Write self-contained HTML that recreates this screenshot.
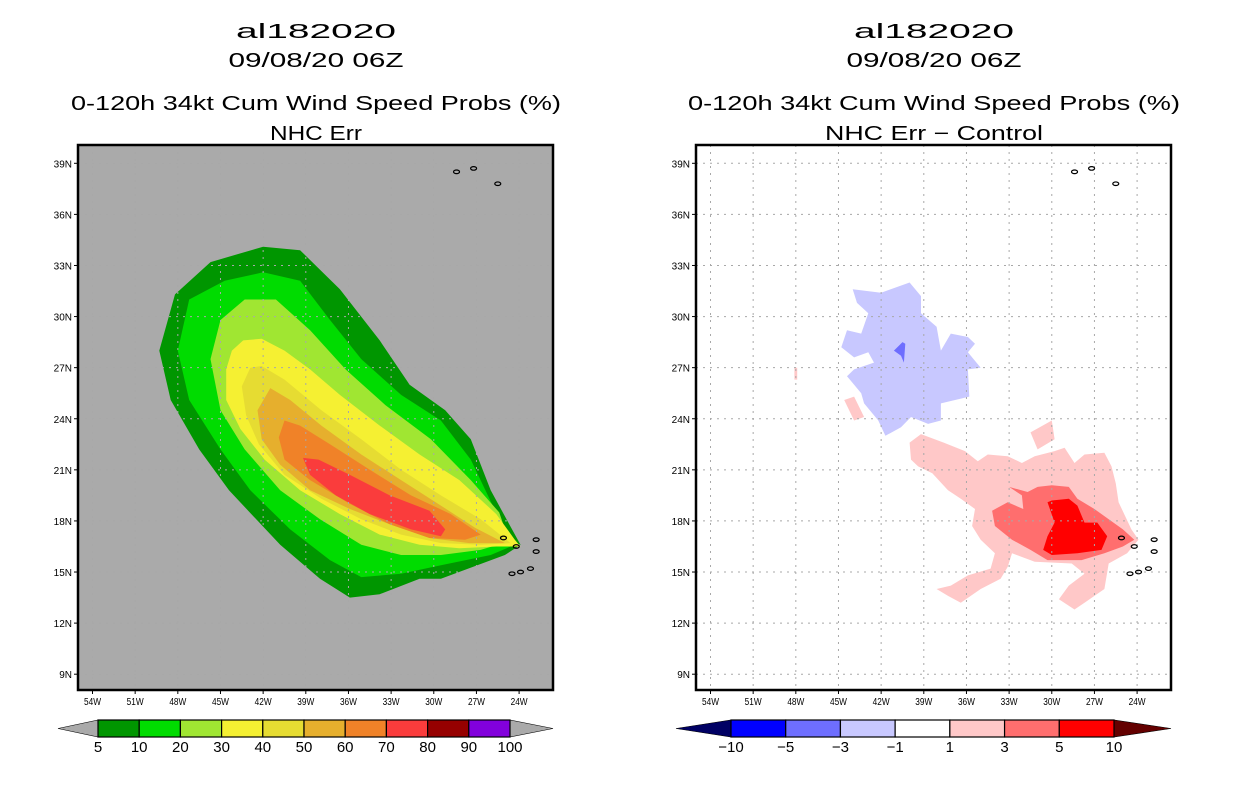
<!DOCTYPE html>
<html><head><meta charset="utf-8"><style>
html,body{margin:0;padding:0;background:#fff;}
svg{display:block;font-family:"Liberation Sans",sans-serif;}
</style></head><body>
<svg id="chart" width="1236" height="800" viewBox="0 0 1236 800" xmlns="http://www.w3.org/2000/svg"></svg>
<script>
// ---------- data ----------
const lonTicks = [-54,-51,-48,-45,-42,-39,-36,-33,-30,-27,-24];
const lonTickLabels = ["54W","51W","48W","45W","42W","39W","36W","33W","30W","27W","24W"];
const latTicks = [39,36,33,30,27,24,21,18,15,12,9];
const latTickLabels = ["39N","36N","33N","30N","27N","24N","21N","18N","15N","12N","9N"];

const probLevels = ["5","10","20","30","40","50","60","70","80","90","100"];
const probColors = ["#009600","#00dc00","#a0e632","#f5f032","#e6dc32","#e6af2d","#f08228","#fa3c3c","#960000","#8200dc"];
const diffLevels = ["-10","-5","-3","-1","1","3","5","10"];
const diffColors = ["#0000ff","#6e6eff","#c8c8ff","#ffffff","#ffc8c8","#ff6e6e","#ff0000"];

const prob5  = [[-49.3,28],[-48.2,31.3],[-45.7,33.2],[-42.0,34.1],[-39.4,33.9],[-36.6,31.6],[-33.8,28.6],[-31.7,26],[-29.2,24.5],[-27.4,22.8],[-26.0,19.8],[-23.9,16.6],[-25.0,16],[-29.5,14.6],[-31.0,14.6],[-33.8,13.7],[-35.9,13.5],[-38.0,14.6],[-40.8,16.6],[-44.4,19.8],[-46.5,22.2],[-48.5,25.1]];
const prob10 = [[-48.0,28],[-47.2,31],[-44.7,32.1],[-42.0,32.6],[-39.4,32.1],[-37.3,29.8],[-35.1,27.5],[-32.3,25.4],[-29.5,23.9],[-27.4,21.6],[-25.4,18.1],[-24.3,16.6],[-26.0,16.0],[-29.5,15.4],[-32.3,14.9],[-35.1,14.7],[-37.3,15.7],[-40.1,17.5],[-42.9,19.8],[-45.0,22.2],[-47.2,25.1]];
const prob20 = [[-45.7,27.5],[-45.0,29.8],[-43.3,31.0],[-41.1,31.0],[-38.7,29.2],[-36.2,26.9],[-33.4,24.8],[-30.2,22.8],[-27.4,20.4],[-25.4,18.5],[-24.7,16.8],[-26.7,16.3],[-29.5,16.0],[-32.3,16.0],[-35.1,16.6],[-38.0,18.1],[-40.8,19.8],[-43.3,22.2],[-45.0,24.5]];
const prob30 = [[-44.6,26.9],[-44.2,28.0],[-43.4,28.6],[-42.1,28.7],[-40.5,28.0],[-38.7,26.9],[-36.6,25.4],[-33.8,23.6],[-31.0,21.9],[-28.2,20.4],[-25.6,18.4],[-24.3,16.9],[-23.9,16.5],[-25.6,16.5],[-28.2,16.4],[-31.0,16.6],[-33.8,17.2],[-36.6,18.4],[-39.4,19.8],[-41.9,21.6],[-43.6,23.4],[-44.6,25.1]];
const prob40 = [[-43.5,25.9],[-42.9,27.0],[-42.1,27.1],[-40.5,26.3],[-37.9,24.5],[-35.1,22.8],[-32.3,21.0],[-29.5,19.5],[-26.7,18.1],[-24.6,16.7],[-26.7,16.6],[-29.5,16.7],[-32.3,17.2],[-35.1,18.1],[-37.9,19.3],[-40.5,20.7],[-42.3,22.5],[-43.2,24.2]];
const prob50 = [[-42.4,24.5],[-41.5,25.8],[-40.1,25.1],[-37.9,23.6],[-35.1,21.9],[-32.3,20.4],[-29.5,18.9],[-27.1,17.6],[-25.0,16.7],[-27.5,16.7],[-30.3,17.0],[-33.1,17.8],[-35.9,18.7],[-38.7,19.8],[-40.8,21.3],[-42.1,22.8]];
const prob60 = [[-40.9,22.9],[-40.5,23.9],[-39.4,23.6],[-37.3,22.5],[-34.5,21.0],[-31.6,19.5],[-28.8,18.4],[-26.7,17.2],[-27.8,16.9],[-30.3,17.0],[-33.1,17.8],[-35.9,19.0],[-38.7,20.4],[-40.5,21.6]];
const prob70 = [[-39.2,21.7],[-38.1,21.6],[-35.9,20.7],[-33.1,19.5],[-30.3,18.6],[-29.2,17.5],[-29.5,17.1],[-31.6,17.5],[-34.5,18.4],[-36.9,19.5],[-38.7,20.7]];

const diffNeg3 = [[-44.0,31.6],[-42.0,31.4],[-40.0,32.0],[-39.2,31.2],[-39.2,30.2],[-38.1,29.4],[-37.8,28.0],[-37.1,29.0],[-35.9,28.8],[-35.4,28.4],[-35.9,27.9],[-35.0,27.0],[-35.9,26.9],[-35.8,25.3],[-37.8,24.9],[-37.8,23.9],[-38.7,23.7],[-39.9,24.1],[-40.6,23.5],[-41.7,23.0],[-42.2,23.9],[-43.2,24.9],[-43.4,25.5],[-44.4,26.5],[-43.9,26.9],[-42.5,27.3],[-42.9,27.9],[-43.9,27.6],[-44.8,28.2],[-44.4,29.2],[-43.4,29.0],[-42.9,30.2],[-43.7,30.8]];
const diffNeg5 = [[-41.1,28.0],[-40.5,28.5],[-40.3,28.4],[-40.4,27.3],[-40.6,27.7]];
const diffPos1 = [[-40.0,22.6],[-39.2,23.1],[-37.6,22.6],[-36.1,22.1],[-35.2,21.5],[-34.5,21.9],[-33.1,21.8],[-32.1,21.4],[-31.2,21.8],[-29.8,22.1],[-29.1,22.3],[-28.4,21.4],[-27.7,21.9],[-26.3,22.0],[-25.8,21.2],[-25.5,20.2],[-25.3,19.1],[-24.4,17.5],[-23.9,16.9],[-24.7,16.1],[-26.0,15.5],[-26.3,14.0],[-27.7,13.2],[-28.4,12.8],[-29.5,13.4],[-28.8,14.2],[-27.7,14.9],[-28.6,15.5],[-31.2,15.6],[-32.8,16.1],[-33.1,15.3],[-33.6,14.6],[-35.0,14.0],[-36.4,13.2],[-37.3,13.6],[-38.1,14.0],[-37.1,14.2],[-35.9,14.8],[-34.3,15.2],[-34.0,16.1],[-35.0,16.9],[-35.6,17.7],[-35.4,18.7],[-36.4,19.3],[-37.3,19.8],[-38.4,20.8],[-39.4,21.2],[-39.9,21.6]];
const diffPos1b = [[-44.6,25.1],[-43.9,25.3],[-43.2,24.1],[-43.9,23.9]];
const diffPos1c = [[-31.5,23.2],[-30.0,23.9],[-29.8,22.8],[-31.0,22.2]];
const diffPos1d = [[-48.1,27.0],[-47.9,27.0],[-47.9,26.3],[-48.1,26.3]];
const diffPos3 = [[-33.0,20.0],[-31.7,19.7],[-31.0,20.0],[-30.0,20.1],[-28.8,20.0],[-28.2,19.3],[-27.0,18.7],[-25.0,17.5],[-24.2,16.9],[-25.0,16.5],[-26.3,16.1],[-27.9,15.7],[-30.3,15.7],[-31.5,16.3],[-32.8,16.9],[-34.0,17.7],[-34.2,18.6],[-33.1,19.1],[-32.0,18.7],[-32.1,19.5]];
const diffPos5 = [[-30.0,19.2],[-28.8,19.3],[-28.2,18.9],[-27.7,17.9],[-26.8,17.9],[-26.1,17.1],[-26.5,16.3],[-28.2,16.1],[-30.0,16.0],[-30.6,16.3],[-30.3,17.1],[-29.8,17.9],[-30.3,19.1]];

const islandLons = [-28.4,-27.2,-25.5,-25.1,-24.2,-22.8,-22.8,-23.9,-23.2,-24.5];
const islandLats = [38.5,38.7,37.8,17.0,16.5,16.2,16.9,15.0,15.2,14.9];

// ---------- helpers ----------
const NS="http://www.w3.org/2000/svg";
const svg=document.getElementById('chart');
function mk(tag,attrs,parent){const e=document.createElementNS(NS,tag);for(const k in attrs)e.setAttribute(k,attrs[k]);(parent||svg).appendChild(e);return e;}
const FRAME={x0:78,x1:553,y0:145,y1:690};
function xScale(lon,off){return 92.5+off+(lon+54)*14.22;}
function yScale(lat){return 163.3+(39-lat)*17.03;}
function pts(poly,off){return poly.map(p=>xScale(p[0],off).toFixed(1)+","+yScale(p[1]).toFixed(1)).join(" ");}

function panel(off,bg,name){
  const g=mk('g',{});
  
  
  const clip=mk('clipPath',{id:'clip'+off},g);
  mk('rect',{x:FRAME.x0+off,y:FRAME.y0,width:FRAME.x1-FRAME.x0,height:FRAME.y1-FRAME.y0},clip);
  const bgR=mk('rect',{x:FRAME.x0+off,y:FRAME.y0,width:FRAME.x1-FRAME.x0,height:FRAME.y1-FRAME.y0,fill:bg},g);
  
  
  const inner=mk('g',{'clip-path':'url(#clip'+off+')'},g);
  return {g,inner};
}
function fillPoly(parent,poly,off,color,name){
  const p=mk('polygon',{points:pts(poly,off),fill:color},parent);
  
  
}
function gridAndAxes(P,off){
  lonTicks.forEach((lon,i)=>{
    const x=xScale(lon,off);
    const l=mk('line',{x1:x,x2:x,y1:FRAME.y0,y2:FRAME.y1,stroke:'#a8a8a8','stroke-width':1,'stroke-dasharray':'2,5'},P.inner);
    
    
    mk('line',{x1:x,x2:x,y1:FRAME.y1,y2:FRAME.y1+4,stroke:'#000'},P.g);
    const t=mk('text',{x:x,y:FRAME.y1+15,'font-size':10,'text-anchor':'middle',fill:'#000',textLength:17,lengthAdjust:'spacingAndGlyphs'},P.g);
    t.textContent=lonTickLabels[i];
    
    
  });
  latTicks.forEach((lat,i)=>{
    const y=yScale(lat);
    const l=mk('line',{x1:FRAME.x0+off,x2:FRAME.x1+off,y1:y,y2:y,stroke:'#a8a8a8','stroke-width':1,'stroke-dasharray':'2,5'},P.inner);
    
    
    mk('line',{x1:FRAME.x0+off-4,x2:FRAME.x0+off,y1:y,y2:y,stroke:'#000'},P.g);
    const t=mk('text',{x:FRAME.x0+off-6,y:y+4,'font-size':10,'text-anchor':'end',fill:'#000'},P.g);
    t.textContent=latTickLabels[i];
    
    
  });
  islandLons.forEach((lon,i)=>{
    const e=mk('ellipse',{cx:xScale(lon,off),cy:yScale(islandLats[i]),rx:3,ry:1.8,fill:'none',stroke:'#000','stroke-width':1.2},P.inner);
    
    
  });
  const fr=mk('rect',{x:FRAME.x0+off,y:FRAME.y0,width:FRAME.x1-FRAME.x0,height:FRAME.y1-FRAME.y0,fill:'none',stroke:'#000','stroke-width':2.5},P.g);
  
  
}
function titles(cx,lines){
  const ys=[38,67,110,140];
  const ws=lines.map(l=>l[1]);
  lines.forEach((l,i)=>{
    const t=mk('text',{x:cx,y:ys[i],'font-size':20,'text-anchor':'middle',fill:'#000',textLength:l[1],lengthAdjust:'spacingAndGlyphs'});
    t.textContent=l[0];
    
    
  });
}
function colorbar(x0,x1,tipL,tipR,colors,labels,leftTip,rightTip,name){
  const g=mk('g',{});
  
  
  const y0=720,y1=737,ym=(y0+y1)/2;
  const w=(x1-x0)/colors.length;
  const a=mk('polygon',{points:`${tipL},${ym} ${x0},${y0} ${x0},${y1}`,fill:leftTip,stroke:'#000','stroke-width':0.6},g);
  
  const b=mk('polygon',{points:`${tipR},${ym} ${x1},${y0} ${x1},${y1}`,fill:rightTip,stroke:'#000','stroke-width':0.6},g);
  
  colors.forEach((c,i)=>{
    const r=mk('rect',{x:x0+i*w,y:y0,width:w,height:y1-y0,fill:c,stroke:'#000','stroke-width':1.2},g);
    
    
  });
  labels.forEach((lab,i)=>{
    const x=x0+(labels.length===colors.length+1?i:i)*w;
    const t=mk('text',{x:x,y:752,'font-size':15,'text-anchor':'middle',fill:'#000'},g);
    t.textContent=lab.replace('-','\u2212');
    
    
  });
}

// ---------- left panel ----------
titles(316,[["al182020",160,'title-storm-id'],["09/08/20 06Z",175,'title-date'],["0-120h 34kt Cum Wind Speed Probs (%)",490,'title-product'],["NHC Err",92,'title-subtitle']]);
const L=panel(0,'#aaaaaa','left-map-panel');
[[prob5,0,'contour-5pct'],[prob10,1,'contour-10pct'],[prob20,2,'contour-20pct'],[prob30,3,'contour-30pct'],[prob40,4,'contour-40pct'],[prob50,5,'contour-50pct'],[prob60,6,'contour-60pct'],[prob70,7,'contour-70pct']]
  .forEach(d=>fillPoly(L.inner,d[0],0,probColors[d[1]],d[2]));
gridAndAxes(L,0);
colorbar(98,510,58,553,probColors,probLevels,'#aaaaaa','#aaaaaa','prob-colorbar');

// ---------- right panel ----------
const OFF=618;
titles(934,[["al182020",160,'title-storm-id-right'],["09/08/20 06Z",175,'title-date-right'],["0-120h 34kt Cum Wind Speed Probs (%)",492,'title-product-right'],["NHC Err \u2212 Control",218,'title-subtitle-right']]);
const R=panel(OFF,'#ffffff','right-map-panel');
fillPoly(R.inner,diffNeg3,OFF,diffColors[2],'diff-minus3-region');
fillPoly(R.inner,diffNeg5,OFF,diffColors[1],'diff-minus5-region');
fillPoly(R.inner,diffPos1,OFF,diffColors[4],'diff-plus1-region');
fillPoly(R.inner,diffPos1b,OFF,diffColors[4],'diff-plus1-blob');
fillPoly(R.inner,diffPos1c,OFF,diffColors[4],'diff-plus1-blob');
fillPoly(R.inner,diffPos1d,OFF,diffColors[4],'diff-plus1-blob');
fillPoly(R.inner,diffPos3,OFF,diffColors[5],'diff-plus3-region');
fillPoly(R.inner,diffPos5,OFF,diffColors[6],'diff-plus5-region');
gridAndAxes(R,OFF);
colorbar(731,1114,676,1171,diffColors,diffLevels,'#000064','#640000','diff-colorbar');
</script>
</body></html>
